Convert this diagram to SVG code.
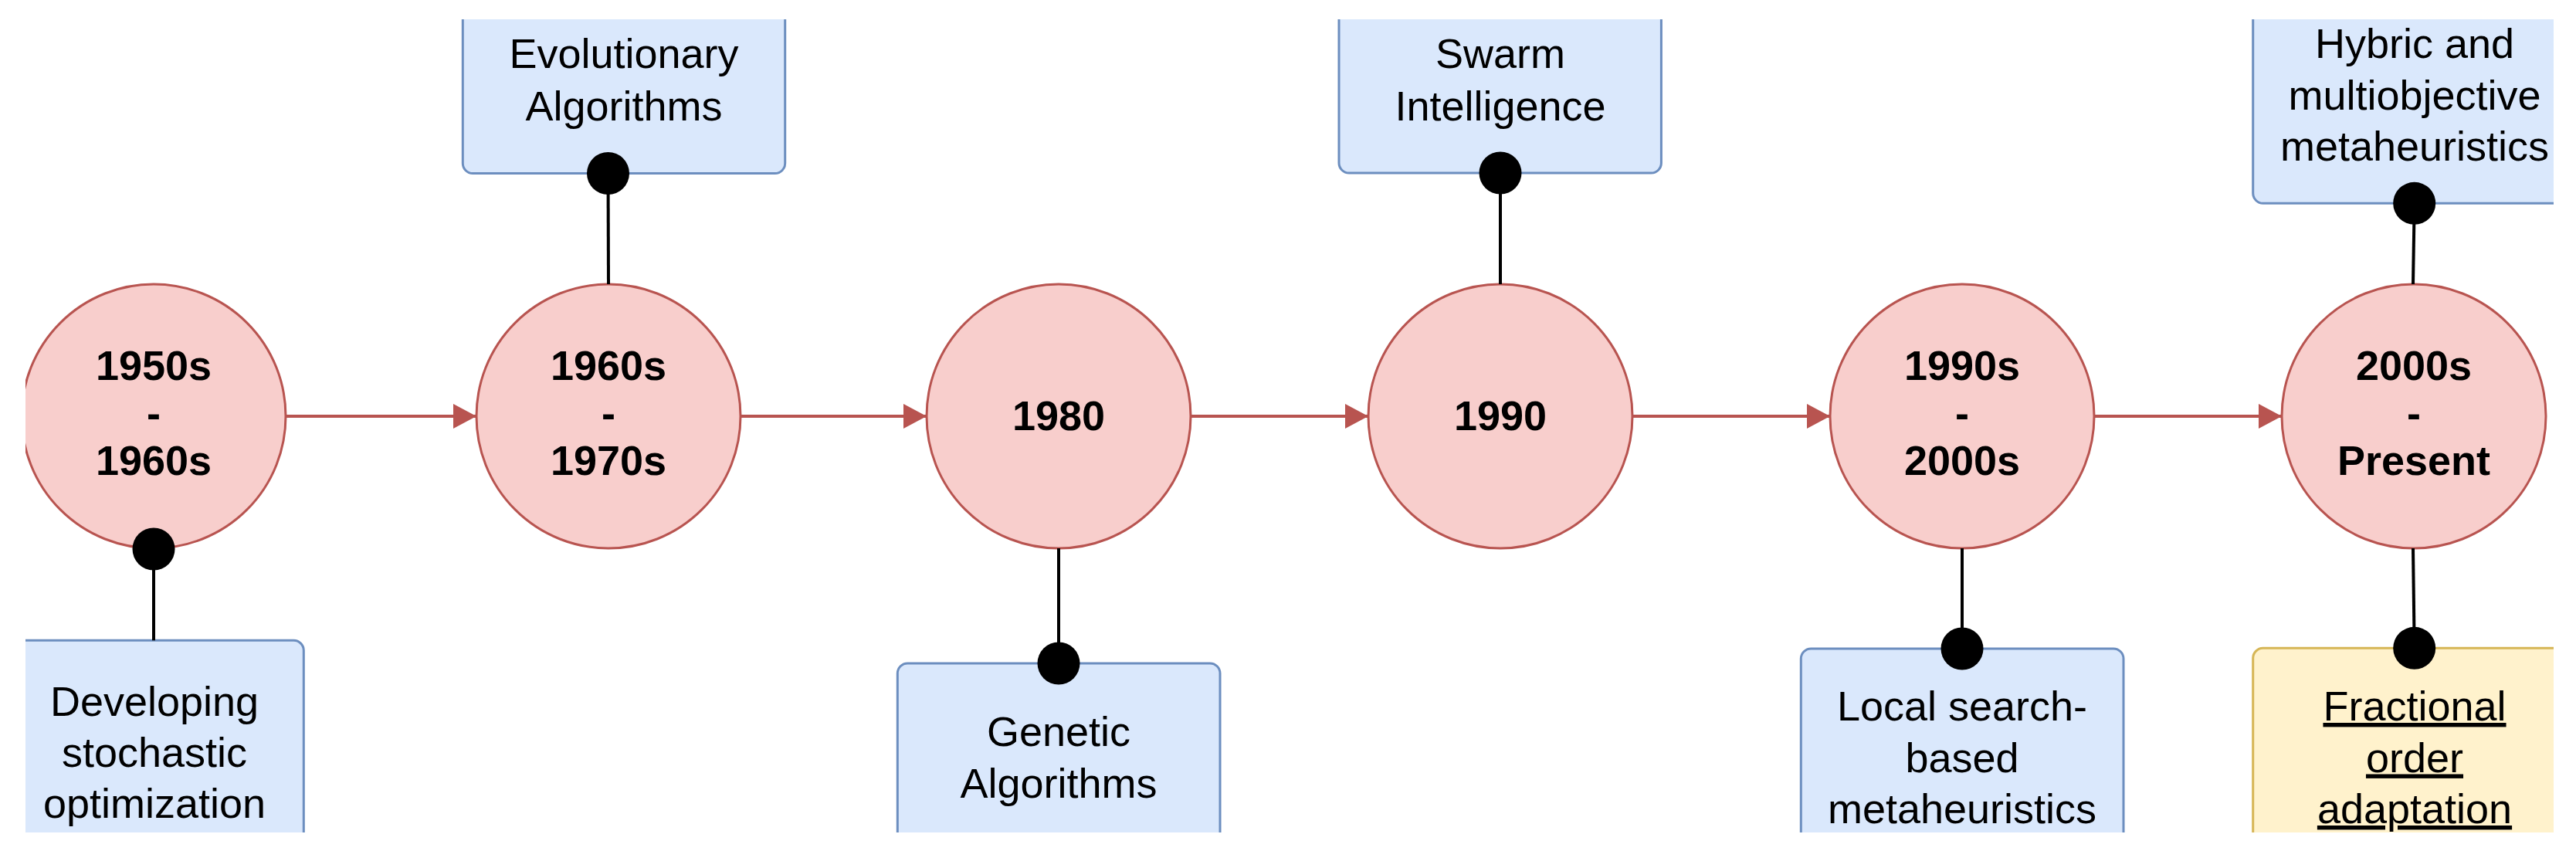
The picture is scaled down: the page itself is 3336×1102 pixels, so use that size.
<svg xmlns="http://www.w3.org/2000/svg" width="3336" height="1102" viewBox="0 0 3336 1102">
<style>
.yr{fill:#f8cecc;stroke:#b85450;stroke-width:3}
.bx{fill:#dae8fc;stroke:#6c8ebf;stroke-width:3}
.by{fill:#fff2cc;stroke:#d6b656;stroke-width:3}
.yt{font-family:"Liberation Sans",Arial,sans-serif;font-weight:bold;font-size:54px;text-anchor:middle;fill:#000}
.bt{font-family:"Liberation Sans",Arial,sans-serif;font-size:54px;text-anchor:middle;fill:#000}
.ar{stroke:#b85450;stroke-width:4;fill:none}
.ln{stroke:#000;stroke-width:4;fill:none}
.dot{fill:#000}
</style>
<defs>
<clipPath id="crop"><rect x="33" y="25" width="3274" height="1053"/></clipPath>
<marker id="tri" markerUnits="userSpaceOnUse" markerWidth="32" markerHeight="34" refX="30" refY="16" orient="auto" viewBox="0 0 32 34">
<path d="M0,0 L30,16 L0,32 Z" fill="#b85450"/>
</marker>
</defs>
<rect width="3336" height="1102" fill="#fff"/>
<g clip-path="url(#crop)">
<g id="y1950">
<circle class="yr" cx="199" cy="539" r="171"/>
<text class="yt" x="199" y="492">1950s</text>
<text class="yt" x="199" y="553.5">-</text>
<text class="yt" x="199" y="615">1960s</text>
</g>
<g id="y1960">
<circle class="yr" cx="788" cy="539" r="171"/>
<text class="yt" x="788" y="492">1960s</text>
<text class="yt" x="788" y="553.5">-</text>
<text class="yt" x="788" y="615">1970s</text>
</g>
<g id="y1980">
<circle class="yr" cx="1371" cy="539" r="171"/>
<text class="yt" x="1371" y="557">1980</text>
</g>
<g id="y1990">
<circle class="yr" cx="1943" cy="539" r="171"/>
<text class="yt" x="1943" y="557">1990</text>
</g>
<g id="y1990s">
<circle class="yr" cx="2541" cy="539" r="171"/>
<text class="yt" x="2541" y="492">1990s</text>
<text class="yt" x="2541" y="553.5">-</text>
<text class="yt" x="2541" y="615">2000s</text>
</g>
<g id="y2000s">
<circle class="yr" cx="3126" cy="539" r="171"/>
<text class="yt" x="3126" y="492">2000s</text>
<text class="yt" x="3126" y="553.5">-</text>
<text class="yt" x="3126" y="615">Present</text>
</g>
<g id="b-stochastic">
<rect class="bx" x="-10" y="829.3" width="403.3" height="300" rx="13"/>
<text class="bt" x="200" y="926.7">Developing</text>
<text class="bt" x="200" y="992.5">stochastic</text>
<text class="bt" x="200" y="1058.5">optimization</text>
</g>
<g id="b-evolutionary">
<rect class="bx" x="599.3" y="-60" width="417.4" height="284.5" rx="13"/>
<text class="bt" x="808" y="88.3">Evolutionary</text>
<text class="bt" x="808" y="155.7">Algorithms</text>
</g>
<g id="b-genetic">
<rect class="bx" x="1162.3" y="859" width="417.7" height="300" rx="13"/>
<text class="bt" x="1371" y="965.5">Genetic</text>
<text class="bt" x="1371" y="1032.5">Algorithms</text>
</g>
<g id="b-swarm">
<rect class="bx" x="1734" y="-60" width="417.4" height="284" rx="13"/>
<text class="bt" x="1943" y="88.3">Swarm</text>
<text class="bt" x="1943" y="155.7">Intelligence</text>
</g>
<g id="b-localsearch">
<rect class="bx" x="2332.3" y="840" width="417.7" height="300" rx="13"/>
<text class="bt" x="2541" y="933">Local search-</text>
<text class="bt" x="2541" y="999.5">based</text>
<text class="bt" x="2541" y="1066">metaheuristics</text>
</g>
<g id="b-hybrid">
<rect class="bx" x="2917.7" y="-60" width="418" height="323.3" rx="13"/>
<text class="bt" x="3127" y="75">Hybric and</text>
<text class="bt" x="3127" y="141.5">multiobjective</text>
<text class="bt" x="3127" y="208">metaheuristics</text>
</g>
<g id="b-fractional">
<rect class="by" x="2917.7" y="839.3" width="418" height="300" rx="13"/>
<text class="bt" x="3127" y="933" text-decoration="underline">Fractional</text>
<text class="bt" x="3127" y="999.5" text-decoration="underline">order</text>
<text class="bt" x="3127" y="1066" text-decoration="underline">adaptation</text>
</g>
<g id="connectors">
<line class="ar" x1="370" y1="539" x2="617" y2="539" marker-end="url(#tri)"/>
<line class="ar" x1="959" y1="539" x2="1200" y2="539" marker-end="url(#tri)"/>
<line class="ar" x1="1542" y1="539" x2="1772" y2="539" marker-end="url(#tri)"/>
<line class="ar" x1="2114" y1="539" x2="2370" y2="539" marker-end="url(#tri)"/>
<line class="ar" x1="2712" y1="539" x2="2955" y2="539" marker-end="url(#tri)"/>
<line class="ln" x1="199" y1="710" x2="199" y2="829.3"/>
<circle class="dot" cx="199" cy="711" r="27.5"/>
<line class="ln" x1="787.5" y1="224.5" x2="788" y2="368"/>
<circle class="dot" cx="787.5" cy="224.5" r="27.5"/>
<line class="ln" x1="1371" y1="710" x2="1371" y2="859"/>
<circle class="dot" cx="1371" cy="859" r="27.5"/>
<line class="ln" x1="1943" y1="224" x2="1943" y2="368"/>
<circle class="dot" cx="1943" cy="224" r="27.5"/>
<line class="ln" x1="2541" y1="710" x2="2541" y2="840"/>
<circle class="dot" cx="2541" cy="840" r="27.5"/>
<line class="ln" x1="3126.7" y1="263.3" x2="3125" y2="368"/>
<circle class="dot" cx="3126.7" cy="263.3" r="27.5"/>
<line class="ln" x1="3125" y1="710" x2="3126.7" y2="839.3"/>
<circle class="dot" cx="3126.7" cy="839.3" r="27.5"/>
</g>
</g>
</svg>
